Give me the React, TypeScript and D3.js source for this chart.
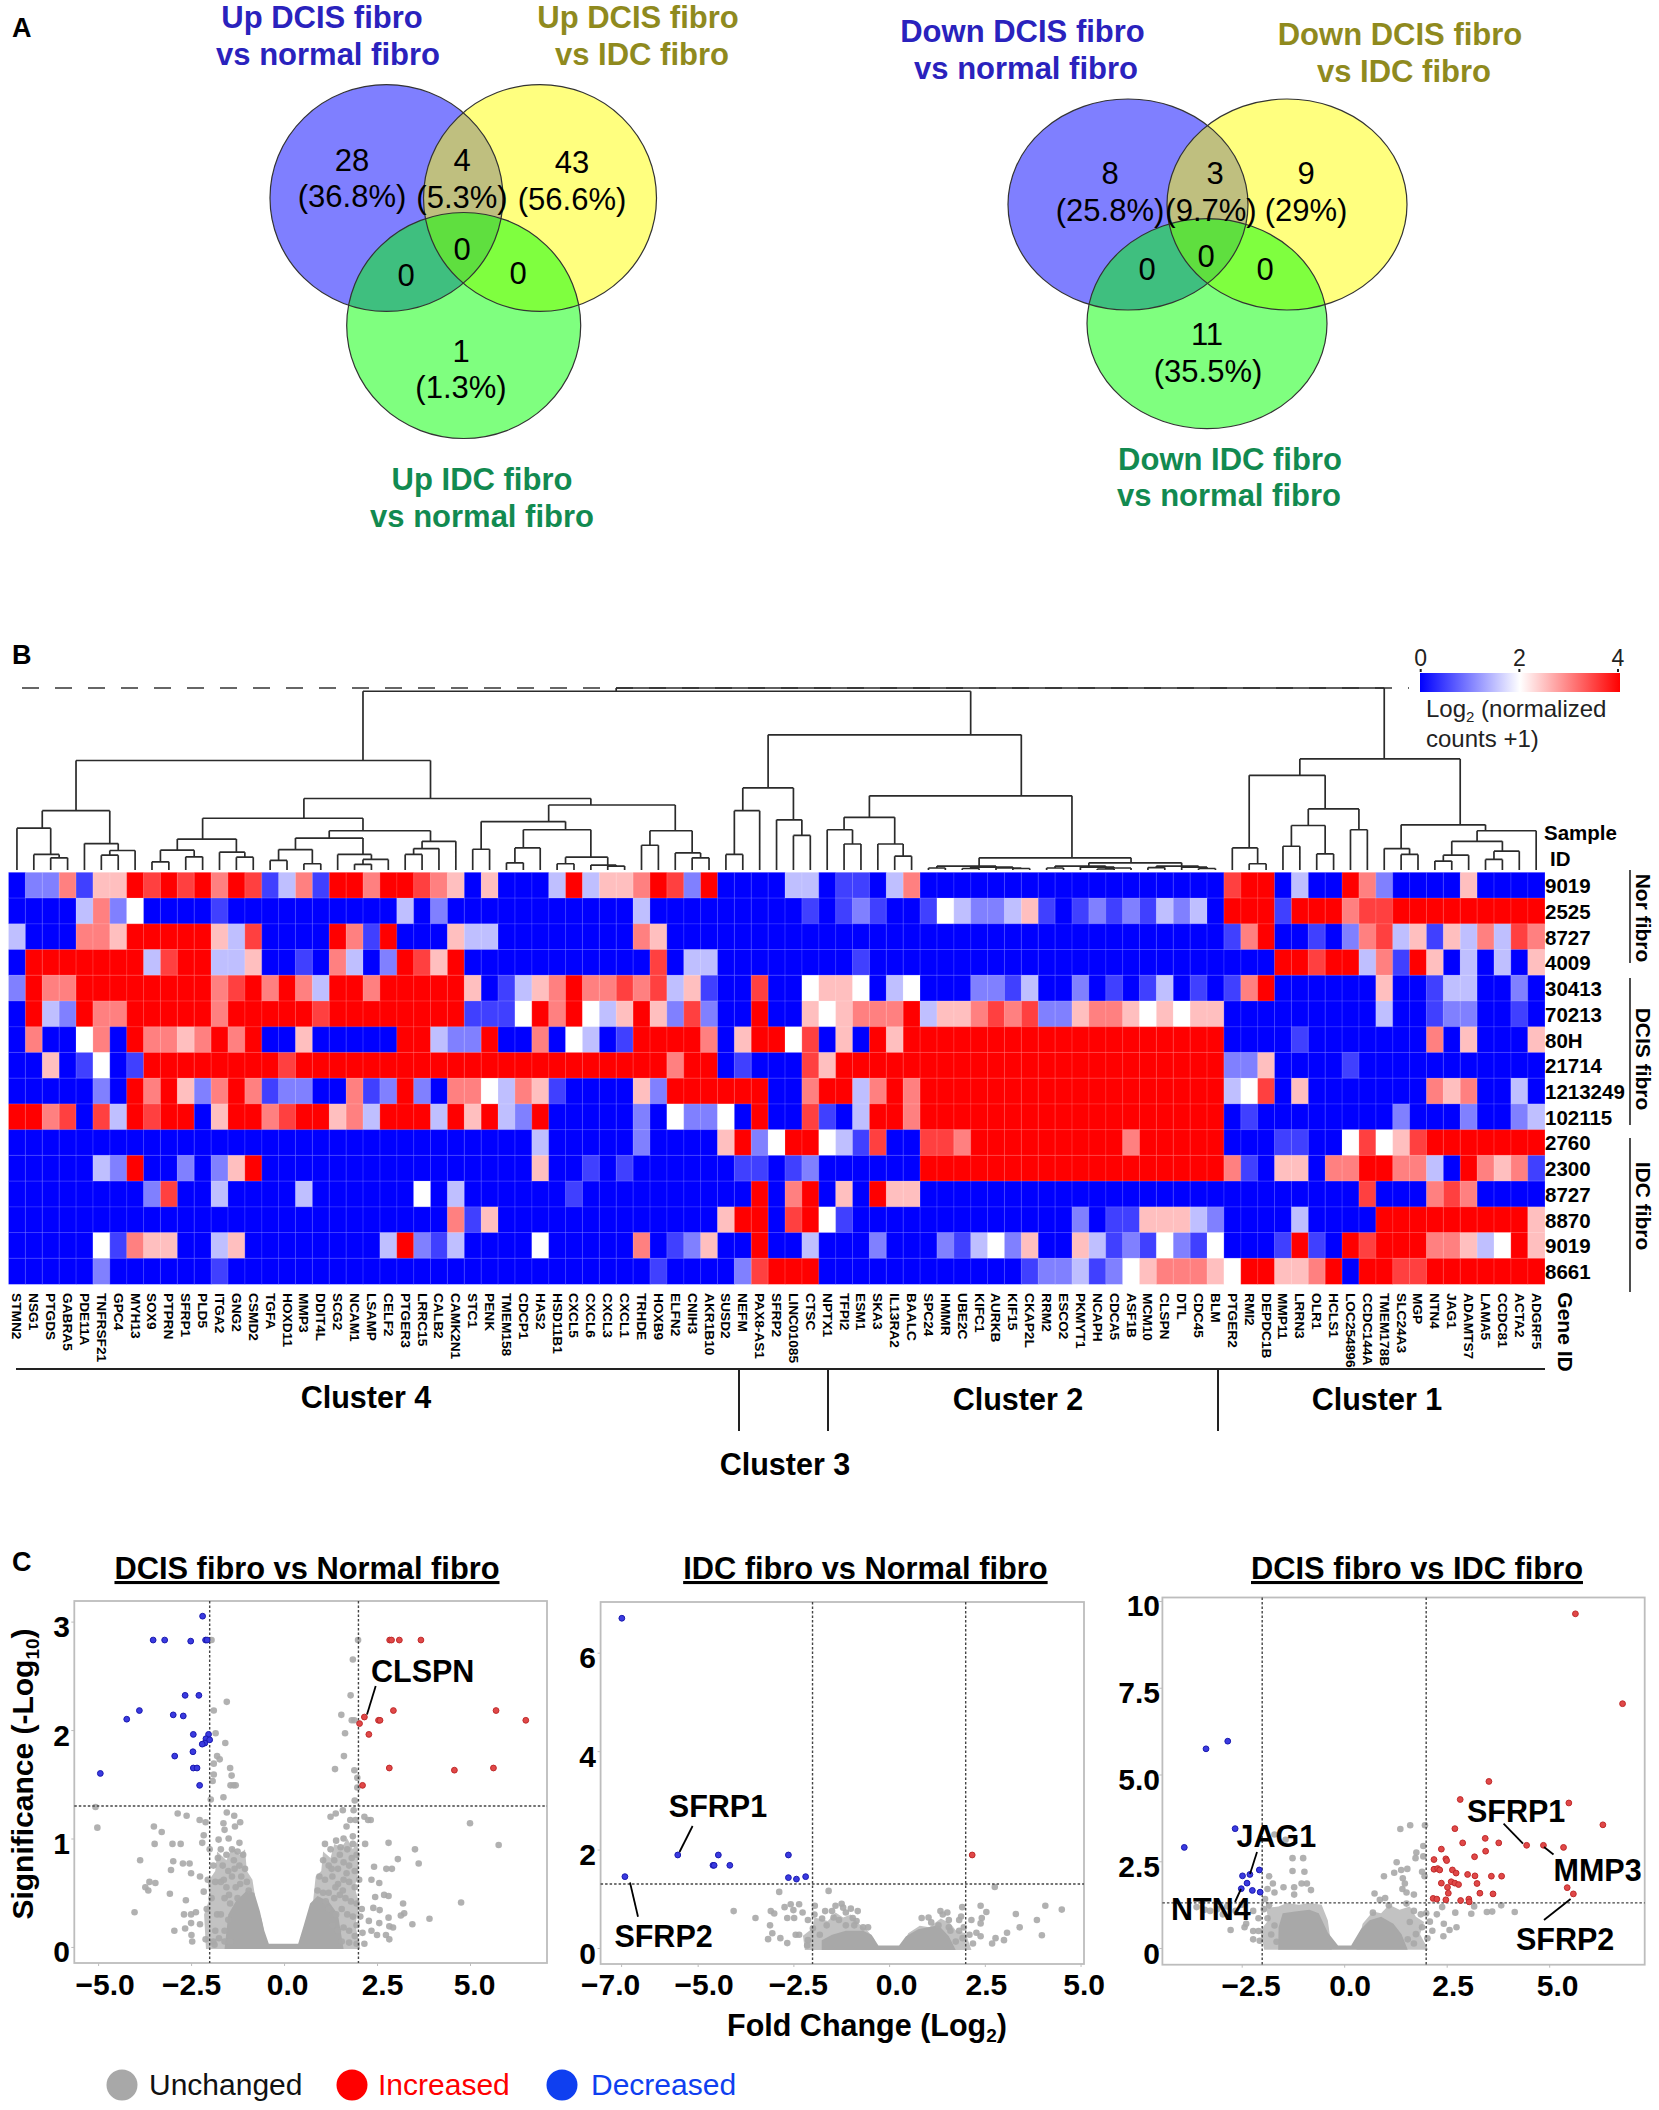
import { useEffect, useRef } from "react";
import * as d3 from "d3";

const FONT = "'Liberation Sans', Arial, sans-serif";

// ---- Panel A: venn counts
const upCounts = ["28", "4", "43", "0", "0", "0", "1"];
const upPercents = ["(36.8%)", "(5.3%)", "(56.6%)", "", "", "", "(1.3%)"];
const downCounts = ["8", "3", "9", "0", "0", "0", "11"];
const downPercents = ["(25.8%)", "(9.7%)", "(29%)", "", "", "", "(35.5%)"];

// ---- Panel B: heatmap
const genes = ["STMN2","NSG1","PTGDS","GABRA5","PDE11A","TNFRSF21","GPC4","MYH13","SOX9","PTPRN","SFRP1","PLD5","ITGA2","GNG2","CSMD2","TGFA","HOXD11","MMP3","DDIT4L","SCG2","NCAM1","LSAMP","CELF2","PTGER3","LRRC15","CALB2","CAMK2N1","STC1","PENK","TMEM158","CDCP1","HAS2","HSD11B1","CXCL5","CXCL6","CXCL3","CXCL1","TRHDE","HOXB9","ELFN2","CNIH3","AKR1B10","SUSD2","NEFM","PAX8-AS1","SFRP2","LINC01085","CTSC","NPTX1","TFPI2","ESM1","SKA3","IL13RA2","BAALC","SPC24","HMMR","UBE2C","KIFC1","AURKB","KIF15","CKAP2L","RRM2","ESCO2","PKMYT1","NCAPH","CDCA5","ASF1B","MCM10","CLSPN","DTL","CDC45","BLM","PTGER2","RMI2","DEPDC1B","MMP11","LRRN3","OLR1","HCLS1","LOC254896","CCDC144A","TMEM178B","SLC24A3","MGP","NTN4","JAG1","ADAMTS7","LAMA5","CCDC81","ACTA2","ADGRF5"];
const samples = ["9019","2525","8727","4009","30413","70213","80H","21714","1213249","102115","2760","2300","8727","8870","9019","8661"];

// heat values in half log2 steps (0 = blue, 4 = white, 8 = red), one row per sample
const s01 = [0,2,2,6,1,5,5,8,7,8, 7,8,6,8,7,1,3,6,1,8, 8,6,8,8,7,6,5,0,5,0, 0,0,3,8,3,5,5,6,8,7, 2,8,0,0,0,0,3,3,0,1, 1,0,3,6,0,0,0,0,0,0, 0,0,0,0,0,0,0,0,0,0, 0,0,7,8,8,0,3,0,0,8, 6,2,0,0,0,0,5,0,0,0, 0];
const s02 = [0,0,0,0,3,6,2,4,0,0, 0,0,1,0,0,0,0,0,0,0, 0,0,0,3,0,2,0,0,0,0, 0,0,0,0,0,0,0,3,0,0, 0,0,0,0,0,0,0,1,0,1, 2,1,0,0,1,4,3,2,2,3, 5,1,0,1,2,1,2,1,3,2, 3,0,8,8,8,1,8,8,8,6, 7,7,8,8,8,8,8,8,8,8, 8];
const s03 = [3,0,0,0,6,6,5,8,8,8, 8,8,5,3,7,0,0,0,0,8, 6,1,8,0,0,0,5,3,3,0, 0,0,0,0,0,0,0,6,5,0, 0,0,0,0,0,0,0,0,0,0, 0,0,0,0,0,0,0,0,0,0, 0,0,0,0,0,0,0,0,0,0, 0,0,1,6,8,0,0,1,0,2, 6,7,3,5,1,5,3,6,3,7, 6];
const s04 = [0,8,8,8,8,8,8,8,3,7, 8,8,3,3,5,0,0,1,0,6, 3,0,2,8,7,5,8,0,0,0, 0,0,0,0,0,0,0,0,7,0, 3,3,0,0,0,0,0,0,0,0, 1,0,0,0,0,0,0,0,0,0, 0,0,0,0,0,0,0,0,0,0, 0,0,0,0,0,8,8,7,8,8, 3,6,1,8,5,0,3,0,3,0, 5];
const s05 = [2,8,6,6,8,8,8,8,8,8, 8,8,6,7,8,6,8,6,3,8, 8,6,8,8,8,8,8,5,0,1, 3,5,6,8,6,6,7,6,7,3, 5,1,0,0,7,0,0,4,5,5, 4,0,3,4,0,0,0,2,2,1, 3,0,0,2,0,1,0,1,3,0, 1,0,1,6,8,0,0,0,0,0, 0,5,0,0,1,3,3,0,0,2, 0];
const s06 = [0,8,3,2,8,6,6,8,8,8, 8,8,6,8,8,8,8,8,7,8, 8,8,8,8,8,8,8,1,1,1, 4,8,6,8,4,3,5,8,5,2, 7,2,0,0,8,0,0,5,4,5, 6,6,6,8,3,5,5,6,7,6, 7,2,2,5,6,6,5,4,5,4, 5,5,0,0,0,0,0,0,0,0, 0,3,0,0,1,2,2,0,0,1, 0];
const s07 = [0,6,0,0,4,6,0,8,6,6, 5,6,8,6,8,0,0,5,0,0, 0,0,0,8,8,3,2,2,8,0, 0,6,0,4,3,0,1,8,8,8, 8,6,0,5,8,8,4,7,0,5, 0,8,5,8,8,8,8,8,8,8, 8,8,8,8,8,8,8,8,8,8, 8,8,0,0,0,0,1,0,0,0, 0,0,0,0,6,0,5,0,0,0, 5];
const s08 = [0,0,5,0,1,4,0,1,8,8, 8,8,8,8,8,8,7,8,8,8, 8,8,8,8,8,8,8,8,8,8, 8,8,8,8,8,8,8,8,8,6, 8,8,0,1,0,0,0,7,5,8, 8,8,8,8,8,8,8,8,8,8, 8,8,8,8,8,8,8,8,8,8, 8,8,2,2,5,0,0,0,0,1, 0,0,0,0,0,0,0,0,0,0, 0];
const s09 = [0,0,0,0,0,2,0,8,6,8, 5,2,6,8,6,1,2,2,0,0, 6,1,2,8,2,0,6,6,4,3, 6,5,1,0,0,0,0,5,2,8, 8,8,8,8,8,0,0,6,8,8, 3,6,8,6,8,8,8,8,8,8, 8,8,8,8,8,8,8,8,8,8, 8,8,3,4,7,0,5,0,0,0, 0,0,0,0,6,5,6,0,0,3, 0];
const s10 = [8,8,6,7,0,7,3,8,7,8, 8,0,5,8,8,6,7,8,8,5, 6,3,8,8,8,3,8,5,8,3, 2,8,0,0,0,0,0,2,0,4, 2,2,4,0,8,0,0,7,1,0, 3,8,8,6,8,8,8,8,8,8, 8,8,8,8,8,8,8,8,8,8, 8,8,0,1,0,0,0,0,0,0, 0,0,2,0,0,0,2,0,0,2, 3];
const s11 = [0,0,0,0,0,0,0,0,0,0, 0,0,0,0,0,0,0,0,0,0, 0,0,0,0,0,0,0,0,0,0, 0,3,0,0,0,0,0,2,0,0, 0,0,5,8,2,4,8,8,4,3, 1,7,0,0,7,7,6,8,8,8, 8,8,8,8,8,8,6,8,8,8, 8,8,0,0,0,1,1,0,0,4, 7,4,5,7,8,8,8,8,8,8, 8];
const s12 = [0,0,0,0,0,3,2,8,0,0, 2,0,2,5,8,0,0,0,0,0, 0,0,0,0,0,0,0,0,0,0, 0,5,0,0,1,0,1,0,0,0, 0,0,0,1,1,0,1,2,0,0, 0,0,0,0,8,8,8,8,8,8, 8,8,8,8,8,8,8,8,8,8, 8,8,6,1,0,5,5,0,6,6, 8,8,6,6,3,0,8,6,5,6, 1];
const s13 = [0,0,0,0,0,0,0,0,2,7, 0,0,3,0,0,0,0,3,0,0, 0,0,0,0,4,0,3,0,0,0, 0,0,0,1,0,0,0,0,0,0, 0,0,0,0,8,0,6,8,0,5, 0,8,5,5,0,0,0,0,0,0, 0,0,0,0,0,0,0,0,0,0, 0,0,0,0,0,0,0,0,0,0, 7,0,0,0,6,7,6,0,0,0, 0];
const s14 = [0,0,0,0,0,0,0,0,0,0, 0,0,0,0,0,0,0,0,0,0, 0,0,0,0,0,0,6,1,5,0, 0,0,0,0,0,0,0,0,0,0, 0,0,5,8,8,0,7,8,4,1, 0,0,0,0,0,0,0,0,0,0, 0,0,0,2,0,1,1,5,5,5, 3,2,0,0,0,0,3,0,0,0, 0,8,8,8,8,8,8,8,8,8, 5];
const s15 = [0,0,0,0,0,4,1,6,5,5, 0,0,3,5,0,0,0,0,0,0, 0,0,3,8,2,1,3,0,0,0, 0,4,0,0,0,0,0,6,0,1, 2,5,0,0,8,0,0,3,0,0, 0,2,0,0,0,2,1,3,4,2, 5,0,0,5,3,1,2,1,4,2, 1,4,0,0,0,1,8,1,0,8, 7,8,8,8,6,6,5,3,4,8, 5];
const s16 = [0,0,0,0,0,2,0,0,0,0, 0,0,1,0,0,0,0,0,0,0, 0,0,0,0,0,0,0,0,0,0, 0,0,0,0,0,0,0,0,1,0, 0,0,0,2,7,8,8,8,0,0, 0,0,0,0,0,0,0,0,0,0, 1,2,2,3,1,2,4,5,6,6, 6,5,4,8,8,5,5,6,8,0, 8,8,7,7,8,8,8,8,8,8, 8];
const heatRows = [s01,s02,s03,s04,s05,s06,s07,s08,s09,s10,s11,s12,s13,s14,s15,s16];

// dendrogram: merge heights, leaves run left to right along the gene list
interface TreeNode { h: number; children?: TreeNode[] }
const n = (h: number, ...children: TreeNode[]): TreeNode => ({ h, children });
const l: TreeNode = { h: 0 };

const c0to7 = n(60, n(42.3, l, n(15.7, l, n(12.3, l, l))), n(26.7, l, n(19.7, n(15, l, l), l)));
const c8to14 = n(31.3, n(20, n(8.3, l, l), n(13.3, l, l)), n(18, l, n(13, l, l)));
const c15to22 = n(32.3, n(20.7, n(9.7, l, l), n(6.3, l, l)), n(15.7, l, n(10.7, n(5.7, l, l), l)));
const c23to26 = n(29, n(21.7, n(15.7, l, l), l), l);
const c27to36 = n(49, n(21, l, l), n(40.7, n(22.3, n(7.3, l, l), l), n(13, n(6.3, l, l), n(5, l, n(4, l, l)))));
const c37to41 = n(39.7, n(25, l, l), n(17.3, l, n(12.3, l, l)));
const c8to41 = n(72.3, n(52.3, c8to14, n(39.7, c15to22, c23to26)), n(65.7, c27to36, c37to41));
const c42to47 = n(83, n(60, n(15.7, l, l), l), n(50.7, l, n(35, l, l)));
const c48to53 = n(53.3, n(40.7, l, n(26.3, l, l)), n(26.3, l, n(14, l, l)));
const c54to60 = n(4, n(2, l, l), n(3, n(1.5, l, l), n(2, l, n(1.5, l, l))));
const c61to71 = n(7.3, n(4, n(2, l, l), n(3, l, n(2, n(1, l, l), l))), n(4, n(2.5, l, l), n(3, l, n(1.5, l, l))));
const c72to80 = n(95.7, n(22.3, l, n(6.3, l, l)), n(61.7, n(45, n(24, l, l), n(16.3, l, l)), n(40.7, l, l)));
const c81to90 = n(45.7, n(21.7, l, n(15.7, l, l)), n(39.7, n(29, n(15, n(9, l, l), l), n(19, n(10.7, l, l), l)), l));
const dendro = n(184,
  n(180.7, n(110.7, c0to7, c8to41), n(136.7, c42to47, n(75, c48to53, n(12.3, c54to60, c61to71)))),
  n(112.3, c72to80, c81to90));

// ---- Panel C: volcano points [log2 fold change, -log10 p]
type Pt = [number, number];
const dnNormalDcis: Pt[] = [[-2.19,3.05],[-3.52,2.83],[-3.21,2.83],[-2.51,2.82],[-2.11,2.83],[-2.07,2.83],[-2.66,2.32],[-2.29,2.32],[-3.89,2.18],[-4.23,2.10],[-2.98,2.14],[-2.71,2.13],[-2.44,1.96],[-2.03,1.96],[-2.10,1.92],[-2.00,1.91],[-2.13,1.88],[-2.20,1.87],[-2.45,1.80],[-2.94,1.76],[-2.44,1.65],[-2.34,1.65],[-2.27,1.49],[-4.94,1.60]];
const upNormalDcis: Pt[] = [[2.84,2.83],[2.89,2.83],[3.10,2.83],[3.68,2.83],[2.16,2.12],[2.03,2.06],[2.54,2.09],[2.58,2.09],[2.94,2.18],[2.28,1.96],[5.70,2.18],[6.50,2.09],[2.83,1.65],[4.58,1.63],[5.63,1.65],[2.11,1.49]];
const grayNormalDcis: Pt[] = [[-1.95,2.83],[1.99,2.83],[1.85,2.65],[1.79,2.32],[-1.54,2.26],[-1.89,2.18],[1.54,2.14],[1.82,2.09],[1.89,2.09],[-1.84,1.97],[1.64,1.97],[-1.58,1.88],[1.61,1.76],[-1.80,1.76],[-1.73,1.73],[-1.89,1.69],[-1.45,1.65],[1.37,1.64],[1.89,1.63],[-1.89,1.59],[-1.41,1.58],[1.97,1.56],[-1.92,1.53],[-1.44,1.49],[-1.30,1.49],[-1.36,1.49],[1.97,1.47],[-1.63,1.38],[-1.97,1.36],[1.90,1.35],[-5.07,1.29],[-5.02,1.10],[-2.86,1.23],[-2.62,1.21],[-3.50,1.11],[-3.29,1.06],[-3.48,.95],[-3.0,.95],[-2.78,.95],[-2.27,1.17],[-2.11,1.15],[-1.54,1.24],[-1.34,1.21],[-1.18,1.15],[-1.63,1.14],[-1.32,1.11],[-1.60,1.08],[-2.16,1.03],[-1.49,1.0],[-1.2,.96],[-2.2,.96],[-1.76,.99],[1.25,1.20],[1.39,1.23],[1.58,1.26],[1.87,1.26],[1.78,1.17],[1.92,1.17],[2.16,1.2],[2.26,1.17],[2.33,1.17],[1.68,1.11],[1.85,1.02],[2.18,.95],[2.81,.96],[3.52,.90],[3.62,.77],[3.06,.81],[2.75,.72],[2.9,.72],[2.42,.74],[2.35,.62],[2.56,.59],[5.0,1.14],[5.77,.94],[4.76,.41],[3.91,.26],[3.45,.21],[3.2,.40],[3.23,.31],[3.14,.29],[2.69,.48],[2.81,.47],[2.45,.46],[2.4,.36],[2.57,.34],[2.09,.35],[2.28,.24],[2.56,.22],[2.81,.27],[2.83,.19],[2.93,.18],[2.74,.11],[2.83,.07],[2.5,.11],[2.11,.13],[2.35,.15],[2.16,.03],[-3.87,.8],[-2.98,.79],[-3.04,.71],[-2.72,.77],[-2.54,.77],[-2.5,.68],[-2.26,.65],[-3.62,.60],[-3.46,.59],[-3.73,.55],[-3.65,.52],[-3.07,.49],[-4.02,.32],[-2.64,.43],[-2.69,.30],[-2.5,.30],[-2.37,.32],[-2.5,.22],[-2.26,.21],[-2.95,.15],[-2.66,.17],[-2.49,.11],[-2.47,.05],[-2.11,.07],[-1.87,.02],[-2.16,.51],[-2.0,.9],[-1.9,.75],[-1.85,.6],[-1.95,.45],[-1.8,.3],[-1.85,.15],[-1.7,.9],[-1.65,.75],[-1.7,.6],[-1.6,.45],[-1.7,.3],[-1.6,.15],[-1.55,.85],[-1.5,.7],[-1.55,.55],[-1.45,.4],[-1.5,.25],[-1.4,.9],[-1.35,.8],[-1.4,.65],[-1.3,.55],[-1.25,.88],[-1.2,.75],[-1.15,.65],[-1.25,.45],[-1.1,.85],[-1.05,.72],[-1.0,.6],[-.95,.52],[-1.6,.05],[-1.9,.05],[-1.75,.08],[-1.45,.05],[-2.05,.62],[-2.08,.35],[-1.78,.82],[-1.62,.62],[-1.48,.48],[-1.33,.72],[-1.18,.58],[1.1,.95],[1.25,.9],[1.4,.98],[1.5,.85],[1.6,1.0],[1.7,.9],[1.85,.95],[1.95,.85],[1.05,.8],[1.2,.75],[1.35,.8],[1.45,.72],[1.6,.78],[1.75,.75],[1.9,.7],[.95,.65],[1.1,.62],[1.3,.65],[1.45,.58],[1.6,.62],[1.75,.6],[1.9,.55],[.9,.52],[1.05,.5],[1.2,.5],[1.35,.45],[1.5,.48],[1.65,.45],[1.8,.42],[1.95,.4],[1.2,.35],[1.4,.3],[1.55,.35],[1.7,.3],[1.85,.28],[1.95,.2],[1.45,.15],[1.6,.18],[1.75,.15],[1.9,.1],[1.55,.05],[1.75,.04],[1.95,.03],[1.3,.2],[1.52,.92],[1.28,.72],[1.68,.68],[1.82,.82],[1.12,.42],[1.38,.55],[1.58,.52],[2.02,.62],[2.05,.28]];
const coreNormalDcis: Pt[] = [[-1.6,-.02],[-1.5,.3],[-1.3,.42],[-1.0,.52],[-.8,.5],[-.65,.33],[-.53,.15],[-.41,.03],[.38,.03],[.53,.2],[.7,.4],[.9,.47],[1.2,.42],[1.45,.3],[1.6,-.02]];
const hazeNormalDcis: Pt[] = [[-2.1,-.02],[-2.15,.3],[-2.0,.45],[-2.05,.6],[-1.85,.7],[-1.8,.88],[-1.55,.8],[-1.4,.92],[-1.2,.85],[-1.05,.9],[-1.0,.7],[-.85,.62],[-.75,.4],[-.6,.25],[-.45,-.02],[.45,-.02],[.6,.25],[.78,.42],[.85,.65],[1.0,.7],[1.05,.88],[1.25,.82],[1.35,.95],[1.55,.92],[1.7,1.0],[1.85,.9],[1.98,.98],[2.0,.7],[1.9,.55],[2.02,.4],[1.92,.2],[2.05,-.02]];

const dnNormalIdc: Pt[] = [[-6.98,6.70],[-6.90,1.45],[-5.52,1.89],[-4.46,1.89],[-4.60,1.68],[-4.57,1.68],[-4.16,1.68],[-2.63,1.89],[-2.63,1.43],[-2.42,1.40],[-2.18,1.45]];
const upNormalIdc: Pt[] = [[2.17,1.89]];
const grayNormalIdc: Pt[] = [[-2.87,1.14],[-1.58,1.16],[2.76,1.24],[-4.06,.75],[-3.49,.61],[-3.09,.75],[-3.0,.70],[-2.73,.83],[-2.57,.89],[-2.35,.89],[-2.5,.77],[-2.66,.61],[-2.48,.61],[-2.26,.72],[-2.12,.57],[-3.11,.46],[-3.05,.30],[-3.16,.18],[-2.84,.20],[-2.66,.10],[-2.44,.27],[-2.35,.27],[-2.12,.16],[-2.14,.05],[-1.99,.40],[-1.94,.86],[-1.67,.75],[-1.40,.86],[-1.24,.90],[-.82,.75],[-1.49,.75],[-1.13,.72],[-.95,.61],[-1.31,.57],[-1.63,.46],[-1.13,.46],[-.91,.46],[-.68,.42],[-.55,.42],[-1.81,.27],[-1.95,.68],[-1.45,.62],[-1.2,.82],[-1.0,.8],[-.85,.55],[-1.75,.6],[.85,.61],[1.03,.62],[1.34,.75],[1.52,.72],[1.91,.83],[2.39,.86],[2.54,.73],[2.42,.61],[2.39,.5],[2.15,.57],[1.83,.57],[1.56,.57],[1.88,.64],[1.29,.46],[1.56,.42],[1.83,.35],[2.1,.27],[2.28,.31],[2.39,.24],[1.92,.2],[2.19,.09],[1.74,.13],[2.78,.2],[2.69,.09],[3.0,.16],[3.08,.31],[3.31,.69],[3.41,.42],[3.86,.57],[3.99,.26],[4.08,.86],[4.51,.78],[1.4,.68],[1.6,.35],[1.95,.42],[1.1,.52]];
const coreNormalIdc: Pt[] = [[-1.76,-.04],[-1.76,.16],[-1.49,.27],[-1.13,.35],[-.68,.35],[-.46,.27],[-.28,.05],[.26,.05],[.44,.24],[.76,.38],[1.29,.46],[1.56,.24],[1.74,-.04]];
const hazeNormalIdc: Pt[] = [[-2.2,-.04],[-2.25,.25],[-2.0,.4],[-1.95,.62],[-1.6,.55],[-1.4,.72],[-1.2,.62],[-1.0,.68],[-.8,.5],[-.6,.38],[-.4,.2],[-.28,-.04],[.3,-.04],[.5,.3],[.8,.45],[1.05,.42],[1.35,.6],[1.6,.5],[1.75,.35],[2.0,.3],[2.15,-.04]];

const dnIdcDcis: Pt[] = [[-3.37,5.74],[-2.84,5.96],[-2.66,3.44],[-3.90,2.90],[-2.07,2.25],[-2.30,2.12],[-2.48,2.08],[-2.37,1.87],[-2.51,1.71],[-2.24,1.66],[-2.05,1.61]];
const upIdcDcis: Pt[] = [[5.64,9.63],[6.79,7.04],[3.53,4.80],[2.83,4.28],[5.48,4.18],[6.31,3.55],[2.70,3.44],[3.44,3.16],[2.89,3.03],[3.77,3.03],[4.45,2.96],[4.86,2.96],[5.35,2.90],[2.37,2.85],[3.45,2.79],[3.18,2.63],[2.19,2.55],[2.48,2.57],[2.5,2.52],[2.19,2.27],[2.28,2.29],[2.33,2.25],[2.64,2.25],[2.73,2.16],[3.01,2.12],[3.19,2.08],[3.59,2.07],[3.84,2.07],[2.37,1.87],[2.61,1.91],[2.70,1.87],[2.79,1.83],[3.24,1.86],[2.52,1.75],[2.54,1.58],[3.31,1.58],[3.63,1.56],[5.44,1.74],[5.59,1.56],[2.17,1.43],[2.26,1.41],[2.48,1.39],[2.84,1.37],[3.04,1.41],[3.05,1.33]];
const grayIdcDcis: Pt[] = [[1.37,3.43],[1.61,3.54],[1.97,3.54],[1.93,2.94],[1.76,2.75],[1.74,2.59],[1.93,2.64],[1.28,2.47],[1.54,2.28],[1.39,2.25],[1.22,2.17],[1.90,2.2],[.97,2.07],[1.43,2.01],[1.48,1.86],[1.96,2.07],[1.42,1.7],[.74,1.57],[1.52,1.6],[1.7,1.54],[.87,1.39],[1.0,1.44],[.7,1.02],[1.09,1.23],[1.52,1.28],[1.7,1.07],[1.87,.97],[2.09,.76],[2.43,.7],[2.74,.6],[2.57,.52],[2.42,.34],[2.39,1.18],[2.71,1.02],[2.26,.97],[3.10,.99],[3.17,1.2],[3.48,1.04],[3.61,1.05],[3.83,1.23],[4.16,1.04],[2.03,.28],[1.7,.13],[1.9,.6],[1.75,.4],[1.6,.75],[1.55,.25],[2.0,1.0],[2.15,.5],[-1.7,3.27],[-1.43,3.12],[-1.26,2.59],[-1.0,2.59],[-1.26,2.22],[-.97,2.2],[-1.83,2.07],[-1.74,1.86],[-1.48,1.75],[-1.04,1.86],[-.91,1.86],[-1.22,1.75],[-.81,1.67],[-1.22,1.54],[-1.93,1.41],[-1.7,1.6],[-1.87,1.7],[-3.6,1.18],[-3.27,1.07],[-2.96,.97],[-2.65,1.07],[-2.39,.7],[-2.77,.52],[-2.43,.6],[-2.22,.49],[-2.09,.49],[-2.22,.25],[-2.06,.21],[-1.87,.86],[-2.09,.86],[-2.22,1.07],[-1.96,1.12],[-1.83,1.23],[-1.7,.65],[-1.78,.39],[-1.65,.18],[-3.4,1.1],[-3.1,1.12],[-2.85,1.2],[-2.5,1.25]];
const coreIdcDcis: Pt[] = [[-1.61,-.05],[-1.6,.6],[-1.5,1.0],[-1.2,1.05],[-.85,1.1],[-.62,1.0],[-.4,.45],[-.15,.07],[.17,.07],[.41,.55],[.62,.8],[.9,.9],[1.2,.7],[1.4,.4],[1.55,-.05]];
const hazeIdcDcis: Pt[] = [[-1.95,-.05],[-2.05,.5],[-1.85,.8],[-1.9,1.15],[-1.6,1.2],[-1.4,1.3],[-1.1,1.25],[-.85,1.3],[-.55,1.25],[-.4,.8],[-.3,-.05],[.3,-.05],[.45,.7],[.7,1.05],[.9,1.0],[1.1,1.25],[1.35,1.1],[1.6,1.2],[1.75,.9],[1.95,.75],[1.85,.4],[2.05,-.05]];

const legendItems = ["Unchanged", "Increased", "Decreased"];

type Sel = d3.Selection<SVGGElement, unknown, null, undefined>;

function addText(g: Sel, x: number, y: number, s: string, size: number, opts: { bold?: boolean; fill?: string; anchor?: string } = {}) {
  return g.append("text")
    .attr("x", x).attr("y", y)
    .attr("text-anchor", opts.anchor ?? "middle")
    .attr("fill", opts.fill ?? "#000")
    .style("font-size", `${size}px`)
    .style("font-weight", opts.bold ? "bold" : "normal")
    .text(s);
}

function drawVenn(g: Sel, ell: number[][], counts: string[], pcts: string[], spots: number[][]) {
  const fills = ["#0000ff", "#ffff00", "#00ff00"];
  ell.forEach((e, i) => {
    g.append("ellipse")
      .attr("cx", e[0]).attr("cy", e[1]).attr("rx", e[2]).attr("ry", e[3])
      .attr("fill", fills[i]).attr("fill-opacity", 0.5);
  });
  ell.forEach((e) => {
    g.append("ellipse")
      .attr("cx", e[0]).attr("cy", e[1]).attr("rx", e[2]).attr("ry", e[3])
      .attr("fill", "none").attr("stroke", "#333").attr("stroke-width", 1.2);
  });
  counts.forEach((c, i) => {
    const s = spots[i];
    addText(g, s[0], s[1], c, 31);
    if (pcts[i]) addText(g, s[2], s[3], pcts[i], 31);
  });
}

function drawHeatmap(g: Sel) {
  const x = d3.scaleBand<string>().domain(genes.map((_, i) => String(i))).range([8.5, 1544.6]);
  const y = d3.scaleBand<string>().domain(samples.map((_, i) => String(i))).range([872.3, 1284]);
  const color = d3.scaleLinear<string>().domain([0, 2, 4]).range(["#0000ff", "#ffffff", "#ff0000"]);

  heatRows.forEach((row, r) => {
    g.append("g").selectAll("rect").data(row).enter().append("rect")
      .attr("x", (_, i) => x(String(i))!)
      .attr("y", y(String(r))!)
      .attr("width", x.bandwidth() + 0.3)
      .attr("height", y.bandwidth() + 0.3)
      .attr("fill", d => color(d / 2));
  });

  // faint cell grid
  genes.forEach((_, i) => {
    g.append("line").attr("x1", x(String(i))!).attr("x2", x(String(i))!)
      .attr("y1", 872.3).attr("y2", 1284)
      .attr("stroke", "#fff").attr("stroke-opacity", 0.22).attr("stroke-width", 0.8);
  });
  samples.forEach((_, i) => {
    g.append("line").attr("y1", y(String(i))!).attr("y2", y(String(i))!)
      .attr("x1", 8.5).attr("x2", 1544.6)
      .attr("stroke", "#fff").attr("stroke-opacity", 0.22).attr("stroke-width", 0.8);
  });

  // sample and gene labels
  samples.forEach((s, i) => {
    addText(g, 1545, y(String(i))! + y.bandwidth() / 2 + 8, s, 20.5, { bold: true, anchor: "start" });
  });
  genes.forEach((name, i) => {
    g.append("text")
      .attr("transform", `translate(${x(String(i))! + x.bandwidth() / 2 - 4.5},1293) rotate(90)`)
      .style("font-size", "13.7px").style("font-weight", "bold")
      .text(name);
  });

  // dendrogram
  const root = d3.hierarchy<TreeNode>(dendro, d => d.children);
  const yH = d3.scaleLinear().domain([0, 184]).range([870, 688]);
  const leaves = root.leaves();
  const leafX = new Map(leaves.map((d, i) => [d, x(String(i))! + x.bandwidth() / 2]));
  const nodeX = (d: d3.HierarchyNode<TreeNode>) => d3.mean(d.leaves(), v => leafX.get(v)!)!;
  const dPath = root.descendants().filter(d => d.children).map(d => {
    const yy = yH(d.data.h);
    const kids = d.children!;
    const stems = kids.map(c => `M${nodeX(c)},${yy}V${yH(c.data.h)}`).join("");
    return `M${nodeX(kids[0])},${yy}H${nodeX(kids[kids.length - 1])}${stems}`;
  }).join("");

  g.append("line").attr("x1", 22).attr("x2", 1409).attr("y1", 688).attr("y2", 688)
    .attr("stroke", "#666").attr("stroke-width", 1.8).attr("stroke-dasharray", "17 16");
  g.append("path").attr("d", dPath).attr("fill", "none").attr("stroke", "#2b2b2b").attr("stroke-width", 1.7);

  addText(g, 1544, 840, "Sample", 20.5, { bold: true, anchor: "start" });
  addText(g, 1550, 866, "ID", 20.5, { bold: true, anchor: "start" });

  // group brackets on the right
  const groups: [string, number, number, number][] = [
    ["Nor fibro", 870, 963, 918],
    ["DCIS fibro", 978, 1125, 1059],
    ["IDC fibro", 1138, 1292, 1206],
  ];
  groups.forEach(([name, a, b, mid]) => {
    g.append("line").attr("x1", 1630).attr("x2", 1630).attr("y1", a).attr("y2", b)
      .attr("stroke", "#222").attr("stroke-width", 1.6);
    g.append("text").attr("transform", `translate(1636,${mid}) rotate(90)`)
      .attr("text-anchor", "middle")
      .style("font-size", "21px").style("font-weight", "bold").text(name);
  });
  g.append("text").attr("transform", "translate(1558,1332) rotate(90)")
    .attr("text-anchor", "middle")
    .style("font-size", "21px").style("font-weight", "bold").text("Gene ID");

  // cluster brackets
  g.append("line").attr("x1", 16).attr("x2", 1545).attr("y1", 1369).attr("y2", 1369)
    .attr("stroke", "#222").attr("stroke-width", 2);
  [739, 828, 1218].forEach(v => {
    g.append("line").attr("x1", v).attr("x2", v).attr("y1", 1369).attr("y2", 1431)
      .attr("stroke", "#222").attr("stroke-width", 2);
  });
  addText(g, 366, 1408, "Cluster 4", 30.5, { bold: true });
  addText(g, 1018, 1410, "Cluster 2", 30.5, { bold: true });
  addText(g, 1377, 1410, "Cluster 1", 30.5, { bold: true });
  addText(g, 785, 1475, "Cluster 3", 30.5, { bold: true });

  // colour key
  const defs = g.append("defs");
  const grad = defs.append("linearGradient").attr("id", "heatKey");
  [0, 1, 2, 3, 4].forEach(v => {
    grad.append("stop").attr("offset", `${v * 25}%`).attr("stop-color", color(v));
  });
  g.append("rect").attr("x", 1420).attr("y", 673).attr("width", 200).attr("height", 19).attr("fill", "url(#heatKey)");
  const keyX = d3.scaleLinear().domain([0, 4]).range([1420.7, 1618]);
  [0, 2, 4].forEach(v => {
    addText(g, keyX(v), 666, String(v), 23, { fill: "#222" });
    g.append("rect").attr("x", keyX(v) - 1).attr("y", 669).attr("width", 2).attr("height", 3).attr("fill", "#222");
  });
  const keyText = addText(g, 1426, 717, "Log", 24, { anchor: "start", fill: "#222" });
  keyText.append("tspan").attr("dy", 5).style("font-size", "15px").text("2");
  keyText.append("tspan").attr("dy", -5).text(" (normalized");
  addText(g, 1426, 747, "counts +1)", 24, { anchor: "start", fill: "#222" });
}

interface VolcanoCfg {
  box: [number, number, number, number];
  xDomain: [number, number];
  yDomain: [number, number];
  xTicks: number[];
  xDx: number[];
  xBase: number;
  yTicks: number[];
  yLabels: string[];
  yRight: number;
  title: string;
  titleX: number;
  gray: Pt[];
  core: Pt[];
  haze: Pt[];
  up: Pt[];
  down: Pt[];
}

function drawVolcano(g: Sel, c: VolcanoCfg) {
  const [left, right, top, bottom] = c.box;
  const x = d3.scaleLinear().domain(c.xDomain).range([left, right]);
  const y = d3.scaleLinear().domain(c.yDomain).range([bottom, top]);

  g.append("rect").attr("x", left).attr("y", top).attr("width", right - left).attr("height", bottom - top)
    .attr("fill", "#fff").attr("stroke", "#bdbdbd").attr("stroke-width", 1.8);

  const area = d3.line<Pt>().x(d => x(d[0])).y(d => y(d[1]));
  g.append("path").attr("d", area(c.haze)! + "Z").attr("fill", "#c2c2c2");
  g.append("path").attr("d", area(c.core)! + "Z").attr("fill", "#a8a8a8");
  g.append("g").selectAll("circle").data(c.gray).enter().append("circle")
    .attr("cx", d => x(d[0])).attr("cy", d => y(d[1])).attr("r", 3.3)
    .attr("fill", "#a8a8a8").attr("fill-opacity", 0.9);

  // thresholds
  [-2, 2].forEach(v => {
    g.append("line").attr("x1", x(v)).attr("x2", x(v)).attr("y1", top).attr("y2", bottom)
      .attr("stroke", "#444").attr("stroke-width", 1.4).attr("stroke-dasharray", "2.5 2");
  });
  g.append("line").attr("x1", left).attr("x2", right).attr("y1", y(1.3)).attr("y2", y(1.3))
    .attr("stroke", "#444").attr("stroke-width", 1.4).attr("stroke-dasharray", "2.5 2");

  g.append("g").selectAll("circle").data(c.down).enter().append("circle")
    .attr("cx", d => x(d[0])).attr("cy", d => y(d[1])).attr("r", 2.9)
    .attr("fill", "#3a3ae0").attr("stroke", "#1a1ab0").attr("stroke-width", 1);
  g.append("g").selectAll("circle").data(c.up).enter().append("circle")
    .attr("cx", d => x(d[0])).attr("cy", d => y(d[1])).attr("r", 2.9)
    .attr("fill", "#e04848").attr("stroke", "#c02a2a").attr("stroke-width", 1);

  const xAxis = g.append("g").attr("transform", `translate(0,${bottom})`)
    .call(d3.axisBottom(x).tickValues(c.xTicks).tickSize(3).tickFormat(d3.format(".1f") as any));
  xAxis.select(".domain").remove();
  xAxis.selectAll("line").attr("stroke", "#bdbdbd");
  xAxis.selectAll<SVGTextElement, number>("text")
    .attr("y", c.xBase - bottom).attr("dy", 0)
    .attr("dx", (_, i) => c.xDx[i])
    .attr("fill", "#000")
    .style("font-size", "30px").style("font-weight", "bold").style("font-family", FONT);

  const yAxis = g.append("g").attr("transform", `translate(${left},0)`)
    .call(d3.axisLeft(y).tickValues(c.yTicks).tickSize(3).tickFormat((_, i) => c.yLabels[i]));
  yAxis.select(".domain").remove();
  yAxis.selectAll("line").attr("stroke", "#bdbdbd");
  yAxis.selectAll<SVGTextElement, number>("text")
    .attr("x", c.yRight - left).attr("dy", 15)
    .attr("fill", "#000")
    .style("font-size", "30px").style("font-weight", "bold").style("font-family", FONT);

  const t = addText(g, c.titleX, 1579, c.title, 30.8, { bold: true });
  t.style("text-decoration", "underline");
}

function callout(g: Sel, label: string, tx: number, ty: number, line?: number[]) {
  addText(g, tx, ty, label, 30.5, { bold: true, anchor: "start" });
  if (line) {
    g.append("line").attr("x1", line[0]).attr("y1", line[1]).attr("x2", line[2]).attr("y2", line[3])
      .attr("stroke", "#000").attr("stroke-width", 1.8);
  }
}

export default function App() {
  const svgRef = useRef<SVGSVGElement>(null);

  useEffect(() => {
    if (!svgRef.current) return;
    const svg = d3.select(svgRef.current);
    svg.selectAll("*").remove();
    const g = svg.append("g").style("font-family", FONT) as unknown as Sel;

    // Panel letters
    addText(g, 12, 37, "A", 27, { bold: true, anchor: "start" });
    addText(g, 12, 664, "B", 27, { bold: true, anchor: "start" });
    addText(g, 12, 1571, "C", 27, { bold: true, anchor: "start" });

    // Panel A
    const blueT = "#2a22bd", oliveT = "#8f8a1e", greenT = "#128a50";
    [["Up DCIS fibro", 322, 28, blueT], ["vs normal fibro", 328, 65, blueT],
     ["Up DCIS fibro", 638, 28, oliveT], ["vs IDC fibro", 642, 65, oliveT],
     ["Up IDC fibro", 482, 490, greenT], ["vs normal fibro", 482, 527, greenT],
     ["Down DCIS fibro", 1022.5, 42, blueT], ["vs normal fibro", 1026, 79, blueT],
     ["Down DCIS fibro", 1400, 45, oliveT], ["vs IDC fibro", 1404, 82, oliveT],
     ["Down IDC fibro", 1230, 470, greenT], ["vs normal fibro", 1229, 506, greenT],
    ].forEach(([s, x, y, fill]) => {
      addText(g, x as number, y as number, s as string, 31, { bold: true, fill: fill as string });
    });

    drawVenn(g, [[386.5, 198, 116.5, 113.4], [540, 198, 116.5, 113.4], [463.7, 325.5, 117, 113]],
      upCounts, upPercents,
      [[352, 171, 352, 207], [462, 171, 462, 208], [572, 173, 572, 210],
       [462, 260, 0, 0], [406, 286, 0, 0], [518, 284, 0, 0], [461, 362, 461, 398]]);
    drawVenn(g, [[1128, 204.5, 120, 105.5], [1287, 204.5, 120, 105.5], [1207, 323.6, 120, 105]],
      downCounts, downPercents,
      [[1110, 184, 1110, 221], [1215, 184, 1211, 221], [1306, 184, 1306, 221],
       [1206, 267, 0, 0], [1147, 280, 0, 0], [1265, 280, 0, 0], [1207, 345, 1208, 382]]);

    // Panel B
    drawHeatmap(g);

    // Panel C
    drawVolcano(g, {
      box: [74.3, 547, 1601, 1963], xDomain: [-5.64, 7.07], yDomain: [-0.148, 3.19],
      xTicks: [-5, -2.5, 0, 2.5, 5], xDx: [6.5, 0, 3, 5, 4], xBase: 1994.5,
      yTicks: [0, 1, 2, 3], yLabels: ["0", "1", "2", "3"], yRight: 70,
      title: "DCIS fibro vs Normal fibro", titleX: 307,
      gray: grayNormalDcis, core: coreNormalDcis, haze: hazeNormalDcis, up: upNormalDcis, down: dnNormalDcis,
    });
    drawVolcano(g, {
      box: [600.6, 1084, 1602, 1964], xDomain: [-7.535, 5.09], yDomain: [-0.325, 7.03],
      xTicks: [-7, -5, -2.5, 0, 2.5, 5], xDx: [-11, 6, 4.5, 7, 1, 3], xBase: 1995,
      yTicks: [0, 2, 4, 6], yLabels: ["0", "2", "4", "6"], yRight: 596,
      title: "IDC fibro vs Normal fibro", titleX: 865.4,
      gray: grayNormalIdc, core: coreNormalIdc, haze: hazeNormalIdc, up: upNormalIdc, down: dnNormalIdc,
    });
    drawVolcano(g, {
      box: [1162.4, 1644.7, 1597.5, 1964.7], xDomain: [-4.434, 7.33], yDomain: [-0.48, 10.1],
      xTicks: [-2.5, 0, 2.5, 5], xDx: [9, 5.4, 6, 8], xBase: 1996,
      yTicks: [0, 2.5, 5, 7.5, 10], yLabels: ["0", "2.5", "5.0", "7.5", "10"], yRight: 1160,
      title: "DCIS fibro vs IDC fibro", titleX: 1417,
      gray: grayIdcDcis, core: coreIdcDcis, haze: hazeIdcDcis, up: upIdcDcis, down: dnIdcDcis,
    });

    callout(g, "CLSPN", 371, 1682, [375.7, 1686, 367, 1714.5]);
    callout(g, "SFRP1", 668.8, 1817, [692.6, 1826, 679.5, 1852]);
    callout(g, "SFRP2", 614.4, 1947, [630, 1882.5, 638, 1916.7]);
    callout(g, "JAG1", 1236.5, 1847, [1257, 1852, 1250, 1874]);
    callout(g, "NTN4", 1171, 1920, [1241, 1889, 1235, 1902]);
    callout(g, "SFRP1", 1467, 1822, [1503.6, 1823.6, 1523, 1843.6]);
    callout(g, "MMP3", 1553.5, 1880.7, [1544, 1847, 1553.5, 1854.5]);
    callout(g, "SFRP2", 1516, 1950, [1570.6, 1899, 1544, 1920]);

    // y and x titles
    const yt = g.append("text").attr("transform", "translate(33,1774) rotate(-90)")
      .attr("text-anchor", "middle")
      .style("font-size", "30px").style("font-weight", "bold").text("Significance (-Log");
    yt.append("tspan").attr("dy", 6).style("font-size", "19px").text("10");
    yt.append("tspan").attr("dy", -6).text(")");
    const xt = addText(g, 867, 2036, "Fold Change (Log", 30.5, { bold: true });
    xt.append("tspan").attr("dy", 6).style("font-size", "19px").text("2");
    xt.append("tspan").attr("dy", -6).text(")");

    // legend
    const legendColors = ["#a8a8a8", "#ff0000", "#0f3ff0"];
    const legendText = ["#111", "#ff0000", "#0f3ff0"];
    const legendX = [122, 352, 562];
    legendItems.forEach((name, i) => {
      g.append("circle").attr("cx", legendX[i]).attr("cy", 2085).attr("r", 15.5).attr("fill", legendColors[i]);
      addText(g, legendX[i] + (i === 0 ? 27 : 26) + (i === 2 ? 3 : 0), 2095, name, 30, { anchor: "start", fill: legendText[i] });
    });
  }, []);

  return (
    <svg
      ref={svgRef}
      width={1659}
      height={2110}
      viewBox="0 0 1659 2110"
      style={{ position: "absolute", left: 0, top: 0, background: "#fff" }}
    />
  );
}
